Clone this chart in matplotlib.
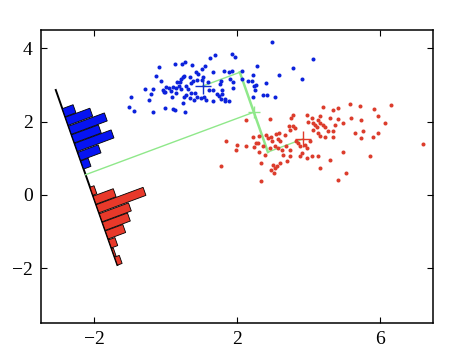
import numpy as np
import matplotlib
matplotlib.use('Agg')
import matplotlib.pyplot as plt
from matplotlib.patches import Polygon

# class 1 (blue) and class 2 (red) samples
blue_pts = [
    (2.98, 4.18), (4.14, 3.72), (1.86, 3.85), (1.94, 3.75), (1.38, 3.81), (1.24, 3.73),
    (0.55, 3.63), (0.45, 3.57), (-0.19, 3.49), (0.27, 3.56), (0.73, 3.55), (1.11, 3.53),
    (1.01, 3.43), (1.33, 3.36), (1.63, 3.38), (1.76, 3.34), (1.86, 3.37), (2.15, 3.39),
    (2.57, 3.53), (3.56, 3.46), (3.19, 3.26), (3.81, 3.16), (2.31, 3.10), (2.42, 3.11),
    (2.52, 3.00), (2.81, 3.05), (2.47, 2.98), (2.14, 3.16), (1.80, 3.16), (1.89, 2.92),
    (1.56, 3.10), (1.53, 3.03), (1.59, 2.85), (1.45, 2.75), (1.58, 2.74), (1.66, 2.61),
    (1.76, 2.56), (1.54, 2.61), (1.65, 2.57), (1.48, 2.70), (1.33, 2.86), (1.18, 3.09),
    (1.03, 3.14), (1.04, 3.23), (0.91, 3.30), (0.86, 3.36), (0.88, 3.14), (0.76, 3.11),
    (0.67, 3.23), (0.51, 3.25), (0.48, 3.21), (0.44, 3.17), (0.41, 3.07), (0.32, 3.09),
    (0.28, 2.91), (0.37, 2.96), (0.20, 2.94), (0.09, 2.92), (0.01, 2.94), (-0.01, 2.81),
    (-0.06, 2.82), (-0.08, 2.86), (-0.13, 3.11), (-0.27, 3.25), (-0.36, 2.88), (-0.41, 2.76),
    (-0.57, 2.88), (-0.48, 2.59), (-0.35, 2.26), (-0.02, 2.37), (0.19, 2.33), (0.27, 2.31),
    (0.53, 2.27), (0.49, 2.52), (0.68, 2.63), (0.78, 2.60), (0.88, 2.68), (0.99, 2.64),
    (1.07, 2.68), (1.14, 2.60), (1.20, 2.86), (0.83, 2.77), (0.72, 2.79), (0.58, 2.72),
    (0.52, 2.68), (0.44, 2.88), (0.30, 2.79), (0.17, 2.68), (0.15, 2.84), (0.58, 2.96),
    (0.62, 2.88), (1.33, 2.57), (-0.97, 2.68), (-1.02, 2.39), (-0.88, 2.29), (2.45, 2.68),
    (2.73, 2.73), (2.85, 2.73), (3.06, 2.66), (2.49, 2.86), (2.45, 3.26), (1.89, 3.07),
    (0.70, 3.06),
]
red_pts = [
    (6.31, 2.46), (5.17, 2.49), (5.45, 2.43), (4.84, 2.38), (4.42, 2.41), (5.85, 2.35),
    (4.70, 2.32), (3.95, 2.18), (4.32, 2.14), (5.96, 2.15), (5.21, 2.09), (6.15, 1.96),
    (5.49, 2.05), (4.84, 2.07), (4.60, 2.09), (4.09, 2.09), (4.28, 2.05), (4.14, 1.97),
    (4.00, 2.00), (4.32, 1.97), (4.42, 1.91), (4.18, 1.91), (4.23, 1.84), (4.14, 1.77),
    (4.46, 1.84), (4.56, 1.75), (4.98, 1.97), (4.74, 1.91), (4.70, 1.73), (4.28, 1.68),
    (4.34, 1.61), (4.46, 1.59), (4.70, 1.57), (5.31, 1.68), (5.54, 1.75), (5.82, 1.57),
    (5.49, 1.55), (5.96, 1.68), (3.56, 2.18), (3.50, 2.09), (3.45, 1.88), (3.57, 1.87),
    (3.62, 1.82), (3.48, 1.77), (3.34, 1.64), (3.18, 1.68), (2.92, 2.07), (2.26, 2.03),
    (2.45, 1.57), (2.61, 1.61), (2.59, 1.41), (2.82, 1.64), (2.87, 1.55), (2.96, 1.59),
    (2.99, 1.48), (3.08, 1.67), (3.14, 1.52), (3.20, 1.46), (3.07, 1.32), (3.16, 1.28),
    (3.25, 1.23), (3.36, 1.32), (3.48, 1.23), (3.65, 1.46), (3.71, 1.41), (3.76, 1.32),
    (3.90, 1.37), (3.95, 1.28), (4.04, 1.46), (3.81, 1.14), (3.76, 1.05), (3.95, 1.00),
    (4.09, 1.05), (4.28, 1.07), (3.48, 1.05), (3.39, 0.91), (3.20, 0.87), (3.01, 0.82),
    (3.11, 0.78), (2.96, 0.67), (3.04, 0.59), (3.07, 0.73), (2.68, 0.87), (2.68, 0.39),
    (4.32, 0.73), (4.60, 0.96), (4.98, 1.17), (5.07, 0.59), (4.84, 0.41), (5.73, 1.07),
    (7.21, 1.38), (1.68, 1.46), (2.01, 1.37), (1.98, 1.23), (2.26, 1.32), (2.47, 1.30),
    (2.54, 1.41), (2.73, 1.32), (1.54, 0.78), (2.61, 1.18), (2.78, 1.09), (2.92, 1.28),
    (3.29, 1.09),
]

# class means (the two crosses)
mean_blue = (1.04, 2.97)
mean_red = (3.84, 1.52)

# projection direction w and a point on the line the means are projected on
w_dir = (0.94, 0.34)
proj_point = (2.47, 2.26)
hist_offset = 5.02  # distance from projection line back to histogram axis

# projected histograms: bin centres along the axis and bar lengths
bin_width = 0.254
blue_centres = [-1.80, -1.55, -1.29, -1.04, -0.79, -0.53, -0.28]
blue_heights = [0.32, 0.73, 1.07, 0.80, 1.09, 0.61, 0.22]
red_centres = [0.48, 0.74, 0.99, 1.25, 1.50, 1.75, 2.01, 2.26, 2.51]
red_heights = [0.12, 0.60, 1.40, 0.87, 0.75, 0.52, 0.19, 0.05, 0.14]
axis_span = (-2.46, 2.62)

blue_col = '#0c22dc'
red_col = '#dc3c2c'
green = '#8fe88a'

plt.rcParams['font.family'] = 'serif'
plt.rcParams['font.serif'] = ['Liberation Serif', 'DejaVu Serif']

fig = plt.figure(figsize=(4.64, 3.52), dpi=100)
ax = fig.add_axes([0.0884, 0.0824, 0.845, 0.8324])

n = np.array(w_dir) / np.linalg.norm(w_dir)
d = np.array([n[1], -n[0]])
m1 = np.array(mean_blue)
m2 = np.array(mean_red)
p = np.array(proj_point)

a = m1 + np.dot(p - m1, n) * n
b = m2 + np.dot(p - m2, n) * n
mid = (a + b) / 2
q = mid - hist_offset * n

# histogram axis line
ends = np.array([q + axis_span[0] * d, q + axis_span[1] * d])
ax.plot(ends[:, 0], ends[:, 1], color='k', lw=1.4, zorder=2)


def draw_hist(centres, heights, color):
    for c, h in zip(centres, heights):
        lo = q + (c - bin_width * 0.46) * d
        hi = q + (c + bin_width * 0.46) * d
        poly = [lo, hi, hi + h * n, lo + h * n]
        ax.add_patch(Polygon(poly, closed=True, facecolor=color,
                             edgecolor='k', lw=0.6, zorder=3))


draw_hist(blue_centres, blue_heights, '#0614f2')
draw_hist(red_centres, red_heights, '#e8392a')

# green construction lines
ax.plot([q[0], mid[0]], [q[1], mid[1]], color=green, lw=1.0, zorder=2)
ax.plot([a[0], b[0]], [a[1], b[1]], color=green, lw=1.8, zorder=2)
ax.plot([m1[0], a[0]], [m1[1], a[1]], color=green, lw=1.0, zorder=2)
ax.plot([m2[0], b[0]], [m2[1], b[1]], color=green, lw=1.0, zorder=2)
ax.plot(mid[0], mid[1], '+', color=green, ms=9, mew=1.0, zorder=4)

bp = np.array(blue_pts)
rp = np.array(red_pts)
ax.plot(bp[:, 0], bp[:, 1], 'o', color=blue_col, ms=2.9, mew=0, zorder=3)
ax.plot(rp[:, 0], rp[:, 1], 'o', color=red_col, ms=2.9, mew=0, zorder=3)
ax.plot(m1[0], m1[1], '+', color='#1030d0', ms=11, mew=1.0, zorder=4)
ax.plot(m2[0], m2[1], '+', color='#e03a2a', ms=11, mew=1.0, zorder=4)

ax.set_xlim(-3.5, 7.5)
ax.set_ylim(-3.5, 4.5)
ax.set_xticks([-2, 2, 6])
ax.set_yticks([-2, 0, 2, 4])
ax.tick_params(direction='in', length=4, width=0.8, top=True, right=True,
               labelsize=14, pad=6)
for sp in ax.spines.values():
    sp.set_linewidth(1.1)

fig.savefig('out.png', dpi=100)
